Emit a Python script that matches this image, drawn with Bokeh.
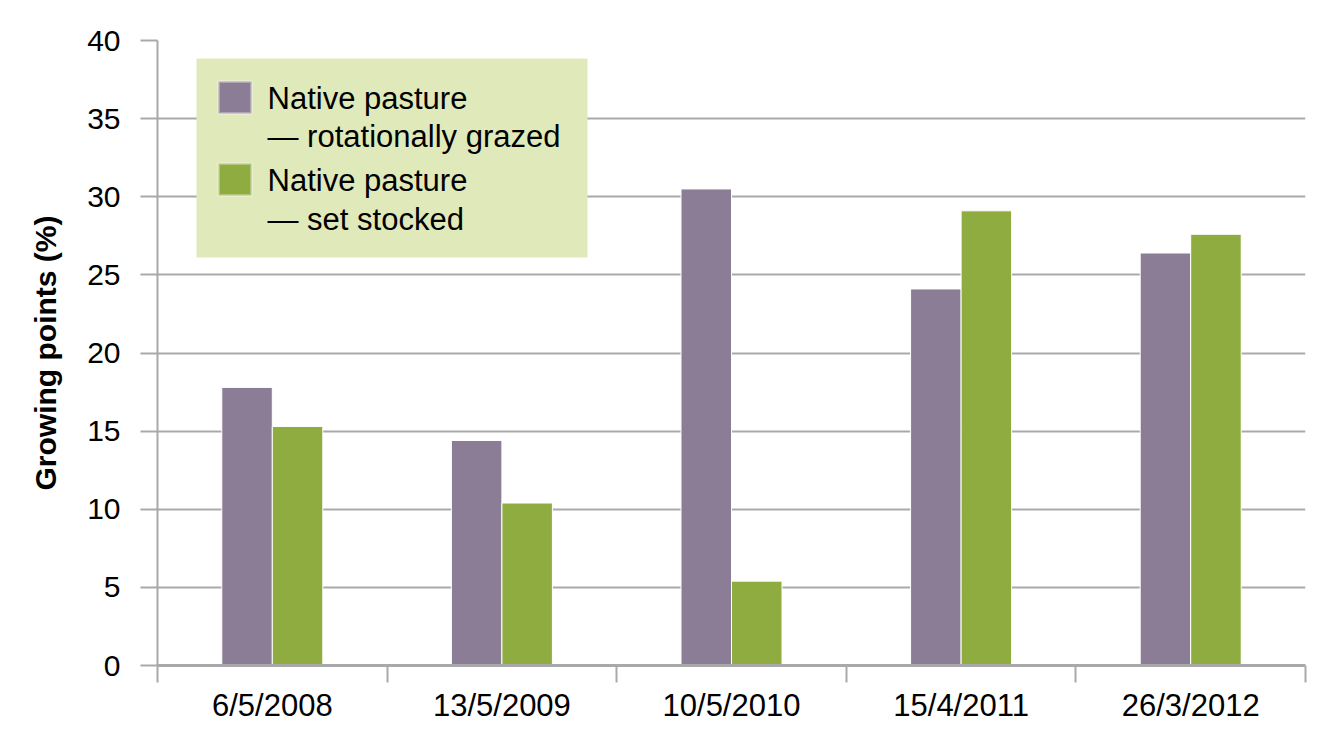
from bokeh.plotting import figure
from bokeh.models import Range1d, FixedTicker, ColumnDataSource, BoxAnnotation, Label
from bokeh.embed import file_html
from bokeh.resources import INLINE

dates = ["6/5/2008", "13/5/2009", "10/5/2010", "15/4/2011", "26/3/2012"]
rotational = [17.8, 14.4, 30.5, 24.1, 26.4]
set_stocked = [15.3, 10.4, 5.4, 29.1, 27.6]
series_lines = [["Native pasture", "— rotationally grazed"],
                ["Native pasture", "— set stocked"]]
y_ticks = [0, 5, 10, 15, 20, 25, 30, 35, 40]

PURPLE = "#8b7d96"
GREEN = "#8fac40"
GRID = "#a9a9ac"
LEGEND_BG = "#e0e9b9"
FONT = "Liberation Sans"

n = len(dates)
centers = [i + 0.5 for i in range(n)]
bw = 0.22
src = ColumnDataSource(dict(
    xr=[c - bw / 2 for c in centers],
    xg=[c + bw / 2 for c in centers],
    rot=rotational, ss=set_stocked))

p = figure(width=1320, height=735, output_backend="svg", toolbar_location=None,
           x_range=Range1d(0, n), y_range=Range1d(0, 40),
           min_border_left=157, min_border_right=15, min_border_top=40, min_border_bottom=70)
p.outline_line_color = None
p.background_fill_color = "white"
p.border_fill_color = "white"

p.vbar(x="xr", top="rot", width=bw, bottom=0, source=src,
       fill_color=PURPLE, line_color="white", line_width=1)
p.vbar(x="xg", top="ss", width=bw, bottom=0, source=src,
       fill_color=GREEN, line_color="white", line_width=1)

# x axis
xa = p.xaxis[0]
xa.ticker = FixedTicker(ticks=centers, minor_ticks=list(range(n + 1)))
xa.major_label_overrides = {c: d for c, d in zip(centers, dates)}
xa.major_tick_line_color = None
xa.minor_tick_out = 17
xa.minor_tick_in = 0
xa.minor_tick_line_color = GRID
xa.minor_tick_line_width = 2
xa.axis_line_color = GRID
xa.axis_line_width = 3
xa.major_label_text_font = FONT
xa.major_label_text_font_size = "31px"
xa.major_label_text_color = "black"
xa.major_label_standoff = 5

# y axis
ya = p.yaxis[0]
ya.ticker = FixedTicker(ticks=y_ticks)
ya.minor_tick_line_color = None
ya.major_tick_out = 17
ya.major_tick_in = 0
ya.major_tick_line_color = GRID
ya.major_tick_line_width = 2
ya.axis_line_color = GRID
ya.axis_line_width = 2
ya.major_label_text_font = FONT
ya.major_label_text_font_size = "30px"
ya.major_label_text_color = "black"
ya.major_label_standoff = 20
ya.axis_label = "Growing points (%)"
ya.axis_label_text_font = FONT
ya.axis_label_text_font_style = "bold"
ya.axis_label_text_font_size = "30px"
ya.axis_label_text_color = "black"
ya.axis_label_standoff = 22

p.xgrid.grid_line_color = None
p.ygrid.grid_line_color = GRID
p.ygrid.grid_line_width = 2

# legend (screen units, measured from the frame's bottom-left corner)
p.add_layout(BoxAnnotation(left=39, right=430, bottom=408, top=607,
                           left_units="screen", right_units="screen",
                           bottom_units="screen", top_units="screen",
                           fill_color=LEGEND_BG, fill_alpha=1, line_color=None))
swatch_bottoms = [552, 470]
for color, sb in zip([PURPLE, GREEN], swatch_bottoms):
    p.add_layout(BoxAnnotation(left=61, right=94, bottom=sb, top=sb + 32,
                               left_units="screen", right_units="screen",
                               bottom_units="screen", top_units="screen",
                               fill_color=color, fill_alpha=1,
                               line_color="white", line_width=3))
baselines = [[567, 529], [485, 446]]
for lines, bls in zip(series_lines, baselines):
    for txt, bl in zip(lines, bls):
        p.add_layout(Label(x=110, y=bl, x_units="screen", y_units="screen", text=txt,
                           text_font=FONT, text_font_size="31px", text_color="black",
                           text_baseline="alphabetic", text_align="left"))

open("out.html", "w").write(file_html(p, INLINE))
